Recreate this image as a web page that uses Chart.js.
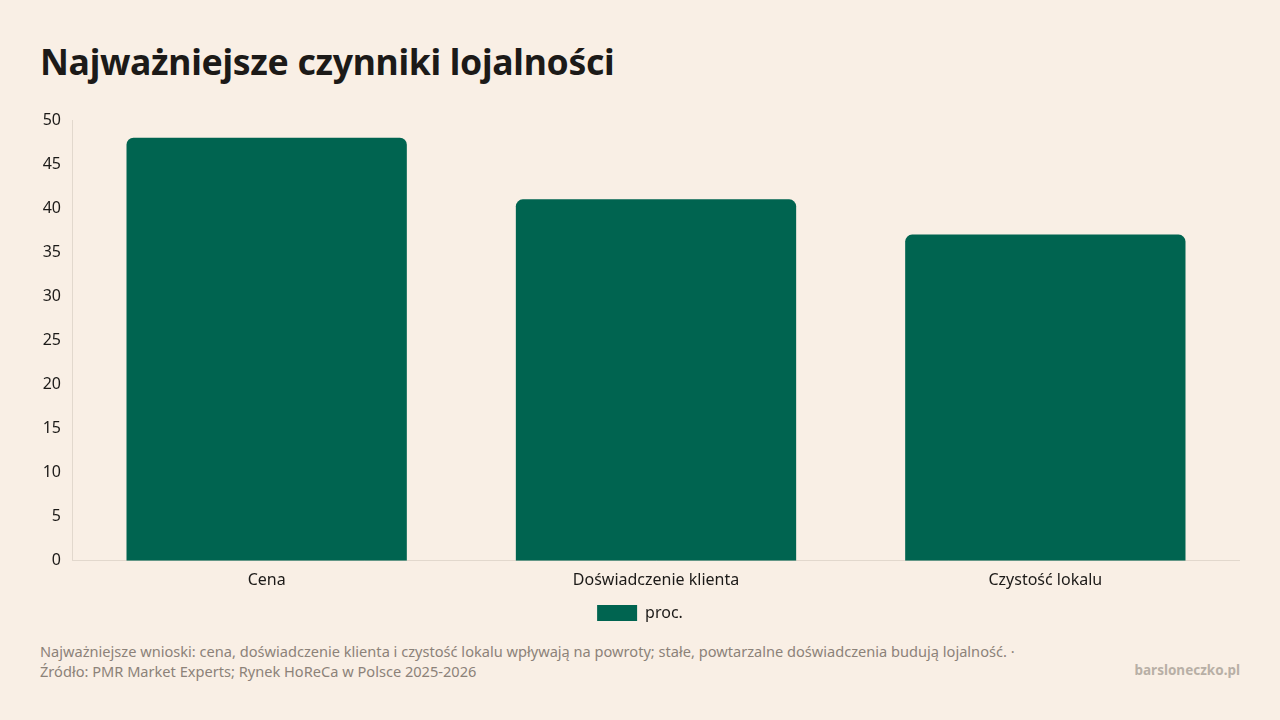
<!DOCTYPE html>
<html lang="pl">
<head>
<meta charset="utf-8">
<script src="https://cdn.jsdelivr.net/npm/chart.js@4"></script>
<style>
  html, body { margin: 0; padding: 0; }
  body {
    width: 1280px; height: 720px; overflow: hidden;
    background: #f9efe5; font-family: "Noto Sans", sans-serif; position: relative;
  }
  h1 {
    position: absolute; left: 40px; top: 37px; margin: 0;
    font-size: 35.6px; font-weight: 700; color: #1c1a18; letter-spacing: -0.3px;
  }
  #wrap { position: absolute; left: 25px; top: 102px; width: 1215px; height: 529px; }
  .note {
    position: absolute; left: 40px; top: 641px; font-size: 14.6px; line-height: 20px; color: #8c8279;
  }
  .brand {
    position: absolute; right: 40px; top: 661px; font-size: 13.5px; font-weight: 700; color: #b8afa6;
  }
</style>
</head>
<body>
<h1>Najważniejsze czynniki lojalności</h1>
<div id="wrap"><canvas id="chart"></canvas></div>
<div class="note">Najważniejsze wnioski: cena, doświadczenie klienta i czystość lokalu wpływają na powroty; stałe, powtarzalne doświadczenia budują lojalność. ·<br>Źródło: PMR Market Experts; Rynek HoReCa w Polsce 2025-2026</div>
<div class="brand">barsloneczko.pl</div>
<script>
const labels = ['Cena', 'Doświadczenie klienta', 'Czystość lokalu'];
const values = [48, 41, 37];

const data = {
    labels: labels,
    datasets: [{
      label: 'proc.',
      backgroundColor: '#006450',
      borderRadius: { topLeft: 7, topRight: 7 },
      borderSkipped: 'bottom',
      data: values,
    }]
};

const config = {
    type: 'bar',
    data: data,
    options: {
        responsive: true,
        maintainAspectRatio: false,
        animation: false,
        layout: { padding: { left: 15, right: 0, top: 18, bottom: 0 } },
        plugins: {
            legend: {
                position: 'bottom',
                labels: {
                    boxWidth: 40,
                    boxHeight: 16,
                    color: '#1c1a18',
                    font: { size: 16 },
                    padding: 13
                }
            },
            tooltip: { enabled: false }
        },
        scales: {
            x: {
                grid: { display: false },
                border: { color: '#e2d8cd' },
                ticks: { color: '#1c1a18', font: { size: 16 }, padding: 2 }
            },
            y: {
                min: 0,
                max: 50,
                grid: { display: false },
                border: { color: '#e2d8cd' },
                ticks: { stepSize: 5, color: '#1c1a18', font: { size: 16 }, padding: 3 },
                afterFit: function(scale) { scale.width = 32; }
            }
        }
    }
};

Chart.defaults.font.family = '"Noto Sans", sans-serif';

var chart = new Chart(document.getElementById('chart'), config);
</script>
</body>
</html>
